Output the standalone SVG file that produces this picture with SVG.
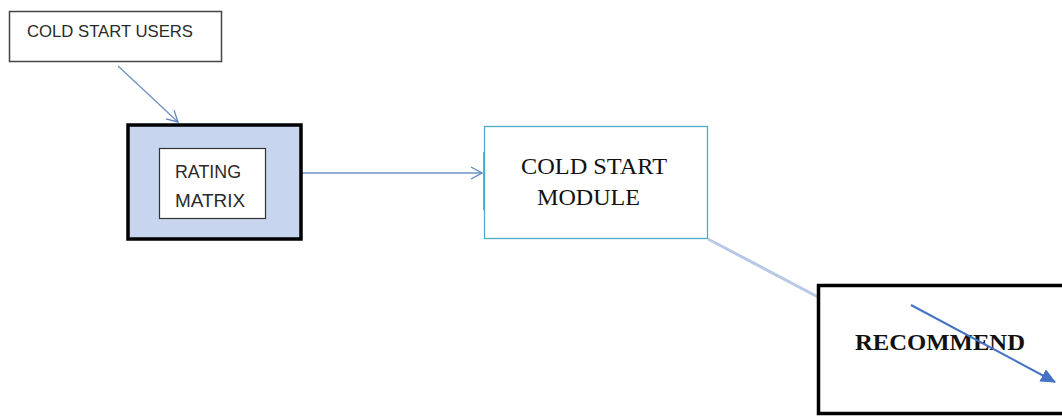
<svg xmlns="http://www.w3.org/2000/svg" width="1062" height="417" viewBox="0 0 1062 417">
<style>
.sans{font-family:"Liberation Sans",Arial,sans-serif;fill:#2a2a2a;}
.serif{font-family:"Liberation Serif","Times New Roman",serif;fill:#111;}
</style>
<defs>
<marker id="open" markerWidth="14" markerHeight="14" refX="12" refY="7" orient="auto" markerUnits="userSpaceOnUse">
<path d="M1,1 L12,7 L1,13" fill="none" stroke="#5b86bf" stroke-width="1.3"/>
</marker>
<marker id="tri" markerWidth="16" markerHeight="16" refX="14" refY="8" orient="auto" markerUnits="userSpaceOnUse">
<path d="M0,1 L15,8 L0,15 Z" fill="#4472c4"/>
</marker>
</defs>
<rect width="1062" height="417" fill="#fff"/>
<g id="connectors">
<line x1="118" y1="66" x2="178" y2="122" stroke="#6f93c4" stroke-width="1.3" marker-end="url(#open)"/>
<line x1="302" y1="173" x2="482" y2="173" stroke="#6f93c4" stroke-width="1.3" marker-end="url(#open)"/>
<line x1="708" y1="239" x2="818" y2="297" stroke="#b8c9e6" stroke-width="3"/>
</g>
<g id="cold-start-users">
<rect x="9.5" y="11.5" width="212" height="50" fill="#fff" stroke="#444" stroke-width="1.5"/>
<text class="sans" x="27" y="37" font-size="16.5" textLength="166" lengthAdjust="spacingAndGlyphs">COLD START USERS</text>
</g>
<g id="rating-matrix">
<rect x="128" y="125" width="173" height="114" fill="#c7d6ee" stroke="#000" stroke-width="3.5"/>
<rect x="159.5" y="148.5" width="106" height="70" fill="#fff" stroke="#333" stroke-width="1.2"/>
<text class="sans" x="175" y="178" font-size="19" textLength="66" lengthAdjust="spacingAndGlyphs">RATING</text>
<text class="sans" x="175" y="207" font-size="19" textLength="70" lengthAdjust="spacingAndGlyphs">MATRIX</text>
</g>
<g id="cold-start-module">
<rect x="484.5" y="126.5" width="223" height="112" fill="#fff" stroke="#4bacc6" stroke-width="1.3"/>
<line x1="483.5" y1="152" x2="483.5" y2="210" stroke="#999" stroke-width="1"/>
<text class="serif" x="521" y="174" font-size="22.5" textLength="146" lengthAdjust="spacingAndGlyphs">COLD START</text>
<text class="serif" x="537" y="204.5" font-size="22.5" textLength="103" lengthAdjust="spacingAndGlyphs">MODULE</text>
</g>
<g id="recommend">
<rect x="818.5" y="285.5" width="260" height="128" fill="#fff" stroke="#000" stroke-width="3.5"/>
<text class="serif" x="855" y="350" font-size="24" font-weight="bold" textLength="170" lengthAdjust="spacingAndGlyphs">RECOMMEND</text>
<line x1="911" y1="305" x2="1055" y2="382" stroke="#4472c4" stroke-width="2" marker-end="url(#tri)"/>
</g>
</svg>
